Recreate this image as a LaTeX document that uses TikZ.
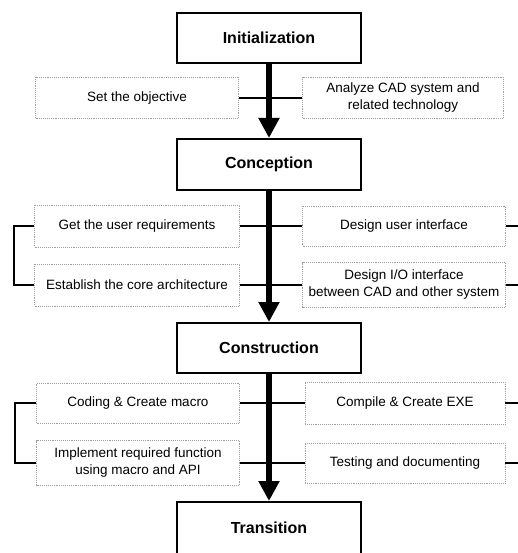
\documentclass[tikz,border=0pt]{standalone}
\usepackage{fontspec}
\setmainfont{Liberation Sans}
\usepackage{tikz}
\usetikzlibrary{arrows.meta}

\begin{document}
\begin{tikzpicture}[x=1pt,y=-1pt]
        \tikzset{mainbox/.style={draw,line width=2pt,minimum width=184pt,
        minimum height=50pt,font=\fontsize{16}{18}\selectfont\bfseries},
        sidebox/.style={draw=gray!75,densely dotted,line width=0.9pt,
        align=center,inner sep=1pt,font=\fontsize{13.5}{17}\selectfont},
        flowptr/.style={line width=6pt,-{Triangle[width=20pt,length=20pt]}},
        link/.style={line width=1.2pt}}
        \useasboundingbox (0,0) rectangle (518,553);

        % middle column
        \node[mainbox] (init) at (269,38) {Initialization};
        \node[mainbox,minimum height=51pt] (concept) at (269,164.5) {Conception};
        \node[mainbox] (construct) at (269,348) {Construction};
        \node[mainbox,minimum height=60pt,text height=12pt,text depth=9pt] (trans) at (269,532) {Transition};

        % left row
        \node[sidebox,minimum width=203pt,minimum height=41pt] (objective) at (137,98) {Set the objective};
        \node[sidebox,minimum width=205pt,minimum height=42pt] (userreq) at (137,226) {Get the user requirements};
        \node[sidebox,minimum width=205pt,minimum height=42pt] (corearch) at (137,285) {Establish the core architecture};
        \node[sidebox,minimum width=203pt,minimum height=40pt] (coding) at (138,403) {Coding \& Create macro};
        \node[sidebox,minimum width=203pt,minimum height=45pt] (implement) at (138,463) {Implement required function\\using macro and API};

        % right row
        \node[sidebox,minimum width=201pt,minimum height=41pt] (analyze) at (403,98) {Analyze CAD system and\\related technology};
        \node[sidebox,minimum width=203pt,minimum height=40pt] (userif) at (404,226) {Design user interface};
        \node[sidebox,minimum width=203pt,minimum height=45pt] (ioif) at (404,285) {Design I/O interface\\between CAD and other system};
        \node[sidebox,minimum width=200pt,minimum height=42pt] (compile) at (405,403) {Compile \& Create EXE};
        \node[sidebox,minimum width=200pt,minimum height=40pt] (testing) at (405,463) {Testing and documenting};

        % free ends at the right margin
        \coordinate (userifend) at (518,226);
        \coordinate (ioifend) at (518,285);
        \coordinate (compileend) at (518,403);
        \coordinate (testingend) at (518,463);

        % lines
        % across the flow
        \draw[link] (objective) -- (analyze);
        \draw[link] (userreq) -- (userif);
        \draw[link] (corearch) -- (ioif);
        \draw[link] (coding) -- (compile);
        \draw[link] (implement) -- (testing);
        % brackets on the left
        \draw[link] (userreq.west) -- +(-20,0) |- (corearch.west);
        \draw[link] (coding.west) -- +(-21,0) |- (implement.west);
        % stubs on the right
        \draw[link] (userif) -- (userifend);
        \draw[link] (ioif) -- (ioifend);
        \draw[link] (compile) -- (compileend);
        \draw[link] (testing) -- (testingend);

        % main flow
        \draw[flowptr] (init) -- (concept);
        \draw[flowptr] (concept) -- (construct);
        \draw[flowptr] (construct) -- (trans);
    \end{tikzpicture}
\end{document}
